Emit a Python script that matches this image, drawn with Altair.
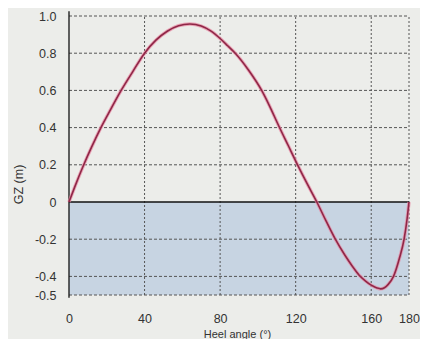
import altair as alt
import pandas as pd

# Curve values
angle = [0, 3, 7.8, 12, 16.9, 22, 27.6, 34, 40, 46, 52, 58, 64, 70, 75, 80, 84, 88, 95,
         102, 106, 111, 116, 121, 126, 131.2, 136, 141, 146, 150, 153.5, 157, 160, 163,
         165, 167, 169, 171.8, 175, 177.4, 179, 180]
gz = [0, 0.08, 0.2, 0.296, 0.4, 0.497, 0.6, 0.705, 0.8, 0.87, 0.918, 0.948, 0.957, 0.946,
      0.92, 0.879, 0.84, 0.8, 0.71, 0.6, 0.52, 0.41, 0.305, 0.2, 0.1, 0, -0.1, -0.2, -0.285,
      -0.345, -0.392, -0.425, -0.447, -0.462, -0.467, -0.461, -0.443, -0.4, -0.3, -0.2,
      -0.09, 0]

x_ticks = [0, 40, 80, 120, 160, 180]
y_ticks = [-0.5, -0.4, -0.2, 0, 0.2, 0.4, 0.6, 0.8, 1.0]
x_grid = [40, 80, 120, 160, 180]
y_grid = [-0.5, -0.4, -0.2, 0.2, 0.4, 0.6, 0.8, 1.0]

x_min, x_max = 0, 180
y_min, y_max = -0.5, 1.0

curve = pd.DataFrame({"angle": angle, "gz": gz})
band = pd.DataFrame({"x": [x_min], "x2": [x_max], "y": [0], "y2": [y_min]})
xg = pd.DataFrame({"x": x_grid, "y": [y_min] * len(x_grid), "y2": [y_max] * len(x_grid)})
yg = pd.DataFrame({"y": y_grid, "x": [x_min] * len(y_grid), "x2": [x_max] * len(y_grid)})
zero = pd.DataFrame({"y": [0], "x": [x_min], "x2": [x_max]})
yaxis_line = pd.DataFrame({"x": [x_min], "y": [-0.515], "y2": [1.025]})

FONT = "Liberation Sans"
xs = alt.Scale(domain=[x_min, x_max], nice=False, zero=False)
ys = alt.Scale(domain=[y_min, y_max], nice=False, zero=False)

x_axis = alt.Axis(values=x_ticks, grid=False, domain=False, ticks=False, tickSize=0,
                  labelPadding=17, labelFontSize=12.5, labelColor="#333", labelFont=FONT,
                  labelOverlap=False, labelFlush=False,
                  title="Heel angle (°)", titleFontSize=11, titleFontWeight="normal",
                  titleColor="#333", titleFont=FONT, titlePadding=4, titleX=168,
                  titleAlign="center")
y_axis = alt.Axis(values=y_ticks, grid=False, domain=False, ticks=False, tickSize=0,
                  labelPadding=13, labelFontSize=12.5, labelColor="#333", labelFont=FONT,
                  labelOverlap=False, labelFlush=False, labelBound=False,
                  labelExpr="datum.value == 0 ? '0' : (datum.value < 0 ? '-' + format(-datum.value, '.1f') : format(datum.value, '.1f'))",
                  title="GZ (m)", titleFontSize=12.5, titleFontWeight="normal",
                  titleColor="#333", titleFont=FONT, titleX=-51, titleY=168,
                  titleAlign="center", titleBaseline="middle", titleAngle=270)

X = lambda f: alt.X(f, scale=xs, axis=x_axis)
Y = lambda f: alt.Y(f, scale=ys, axis=y_axis)

band_l = alt.Chart(band).mark_rect(color="#c7d4e2").encode(
    x=X("x:Q"), x2="x2:Q", y=Y("y:Q"), y2="y2:Q")
xgrid_l = alt.Chart(xg).mark_rule(color="#555", strokeDash=[2, 2], strokeWidth=1).encode(
    x=X("x:Q"), y=Y("y:Q"), y2="y2:Q")
ygrid_l = alt.Chart(yg).mark_rule(color="#555", strokeDash=[3, 2], strokeWidth=1).encode(
    y=Y("y:Q"), x=X("x:Q"), x2="x2:Q")
zero_l = alt.Chart(zero).mark_rule(color="#111", strokeWidth=1.5).encode(
    y=Y("y:Q"), x=X("x:Q"), x2="x2:Q")
yline_l = alt.Chart(yaxis_line).mark_rule(color="#111", strokeWidth=1.3, clip=False).encode(
    x=X("x:Q"), y=Y("y:Q"), y2="y2:Q")
halo = alt.Chart(curve).mark_line(color="#e8859f", strokeWidth=3.4, opacity=0.7,
                                  interpolate="monotone").encode(
    x=X("angle:Q"), y=Y("gz:Q"))
line = alt.Chart(curve).mark_line(color="#8f2747", strokeWidth=1.6,
                                  interpolate="monotone").encode(
    x=X("angle:Q"), y=Y("gz:Q"))

chart = alt.layer(band_l, xgrid_l, ygrid_l, zero_l, yline_l, halo, line).properties(
    width=340, height=279,
    autosize=alt.AutoSizeParams(type="none"),
    padding={"left": 61, "top": 8, "right": 11, "bottom": 44},
    background="#ecedea",
).configure_view(stroke=None).configure_axis(labelOverlap=False)

chart.save("out.html", embed_options={"renderer": "svg", "actions": False})
